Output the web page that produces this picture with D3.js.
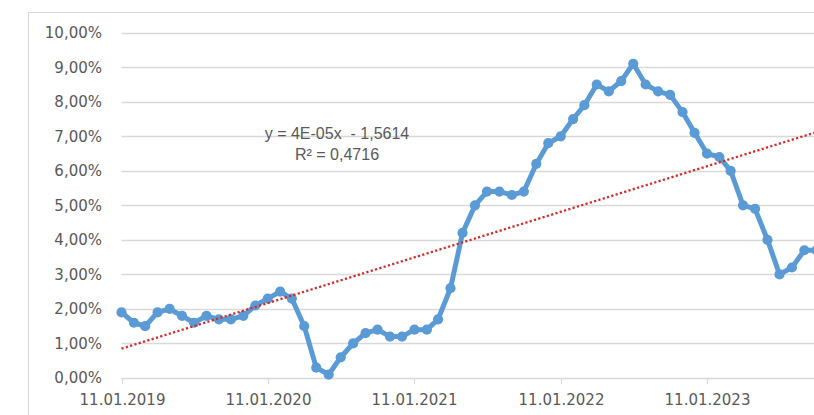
<!DOCTYPE html>
<html>
<head>
<meta charset="utf-8">
<script src="https://cdn.jsdelivr.net/npm/d3@7"></script>
<style>
  html, body { margin: 0; padding: 0; background: #fff; overflow: hidden; }
  svg { display: block; }
</style>
</head>
<body>
<svg id="chart" width="814" height="415"></svg>
<script>
// monthly observations (11th of each month), in percent
const months = [
  "2019-01-11","2019-02-11","2019-03-11","2019-04-11","2019-05-11","2019-06-11",
  "2019-07-11","2019-08-11","2019-09-11","2019-10-11","2019-11-11","2019-12-11",
  "2020-01-11","2020-02-11","2020-03-11","2020-04-11","2020-05-11","2020-06-11",
  "2020-07-11","2020-08-11","2020-09-11","2020-10-11","2020-11-11","2020-12-11",
  "2021-01-11","2021-02-11","2021-03-11","2021-04-11","2021-05-11","2021-06-11",
  "2021-07-11","2021-08-11","2021-09-11","2021-10-11","2021-11-11","2021-12-11",
  "2022-01-11","2022-02-11","2022-03-11","2022-04-11","2022-05-11","2022-06-11",
  "2022-07-11","2022-08-11","2022-09-11","2022-10-11","2022-11-11","2022-12-11",
  "2023-01-11","2023-02-11","2023-03-11","2023-04-11","2023-05-11","2023-06-11",
  "2023-07-11","2023-08-11","2023-09-11","2023-10-11"
]
const rates = [
  1.9, 1.6, 1.5, 1.9, 2.0, 1.8, 1.6, 1.8, 1.7, 1.7, 1.8, 2.1,
  2.3, 2.5, 2.3, 1.5, 0.3, 0.1, 0.6, 1.0, 1.3, 1.4, 1.2, 1.2,
  1.4, 1.4, 1.7, 2.6, 4.2, 5.0, 5.4, 5.4, 5.3, 5.4, 6.2, 6.8,
  7.0, 7.5, 7.9, 8.5, 8.3, 8.6, 9.1, 8.5, 8.3, 8.2, 7.7, 7.1,
  6.5, 6.4, 6.0, 5.0, 4.9, 4.0, 3.0, 3.2, 3.7, 3.7
]

// linear trendline end points
const trendDates = ["2019-01-11", "2023-10-11"]
const trendValues = [0.85, 7.12]
const trendLabel = ["y = 4E-05x  - 1,5614", "R² = 0,4716"]

const yTicks = [0, 1, 2, 3, 4, 5, 6, 7, 8, 9, 10]
const xTickDates = ["2019-01-11", "2020-01-11", "2021-01-11", "2022-01-11", "2023-01-11"]
const xTickLabels = ["11.01.2019", "11.01.2020", "11.01.2021", "11.01.2022", "11.01.2023"]

const parse = d3.timeParse("%Y-%m-%d")
const data = months.map((m, i) => ({ date: parse(m), value: rates[i] }))
const trend = trendDates.map((m, i) => ({ date: parse(m), value: trendValues[i] }))

const svg = d3.select("#chart")
const width = 814, height = 415

svg.append("rect").attr("width", width).attr("height", height).attr("fill", "#fff")

// chart area border (right/bottom edges are cut off in the picture)
svg.append("path")
  .attr("d", `M28.5,${height + 5} V12.5 H${width + 5}`)
  .attr("fill", "none")
  .attr("stroke", "#d9d9d9")
  .attr("stroke-width", 1.2)

// the plot runs on past the right edge of the window
const x = d3.scaleTime()
  .domain([parse("2019-01-11"), parse("2024-01-11")])
  .range([121.5, 121.5 + 5 * 146.35])
const y = d3.scaleLinear().domain([0, 10]).range([378, 32.7])

const fmtPct = (v) => v.toFixed(2).replace(".", ",") + "%"
const labelFont = "DejaVu Sans, Verdana, sans-serif"

// horizontal gridlines
svg.append("g")
  .selectAll("line")
  .data(yTicks)
  .join("line")
  .attr("x1", x.range()[0])
  .attr("x2", width + 10)
  .attr("y1", (d) => Math.round(y(d)) + 0.5)
  .attr("y2", (d) => Math.round(y(d)) + 0.5)
  .attr("stroke", "#d9d9d9")
  .attr("stroke-width", 1.5)

// y labels
svg.append("g")
  .selectAll("text")
  .data(yTicks)
  .join("text")
  .attr("x", 102)
  .attr("y", (d) => y(d))
  .attr("dy", "0.36em")
  .attr("text-anchor", "end")
  .attr("font-family", labelFont)
  .attr("font-size", 15)
  .attr("fill", "#595959")
  .text(fmtPct)

// x ticks + labels
const xt = svg.append("g")
  .selectAll("g")
  .data(xTickDates)
  .join("g")
  .attr("transform", (d) => `translate(${Math.round(x(parse(d))) + 0.5},0)`)
xt.append("line")
  .attr("y1", y(0))
  .attr("y2", y(0) + 6)
  .attr("stroke", "#d9d9d9")
  .attr("stroke-width", 1.2)
xt.append("text")
  .attr("y", 404.5)
  .attr("text-anchor", "middle")
  .attr("font-family", labelFont)
  .attr("font-size", 15)
  .attr("fill", "#595959")
  .text((d, i) => xTickLabels[i])

// data line with markers
const line = d3.line().x((d) => x(d.date)).y((d) => y(d.value))
svg.append("path")
  .datum(data)
  .attr("d", line)
  .attr("fill", "none")
  .attr("stroke", "#5b9bd5")
  .attr("stroke-width", 5)
  .attr("stroke-linejoin", "round")

svg.append("g")
  .selectAll("circle")
  .data(data)
  .join("circle")
  .attr("cx", (d) => x(d.date))
  .attr("cy", (d) => y(d.value))
  .attr("r", 5.1)
  .attr("fill", "#5b9bd5")

// trendline
svg.append("path")
  .datum(trend)
  .attr("d", line)
  .attr("fill", "none")
  .attr("stroke", "#d42a2a")
  .attr("stroke-width", 2.3)
  .attr("stroke-dasharray", "2.2,2.3")

// trendline equation
svg.append("text")
  .attr("x", 337)
  .attr("y", 139)
  .attr("text-anchor", "middle")
  .attr("font-family", "Liberation Sans, Arial, sans-serif")
  .attr("font-size", 16)
  .attr("fill", "#595959")
  .selectAll("tspan")
  .data(trendLabel)
  .join("tspan")
  .attr("x", 337)
  .attr("dy", (d, i) => (i === 0 ? 0 : 21))
  .style("white-space", "pre")
  .text((d) => d)
</script>
</body>
</html>
